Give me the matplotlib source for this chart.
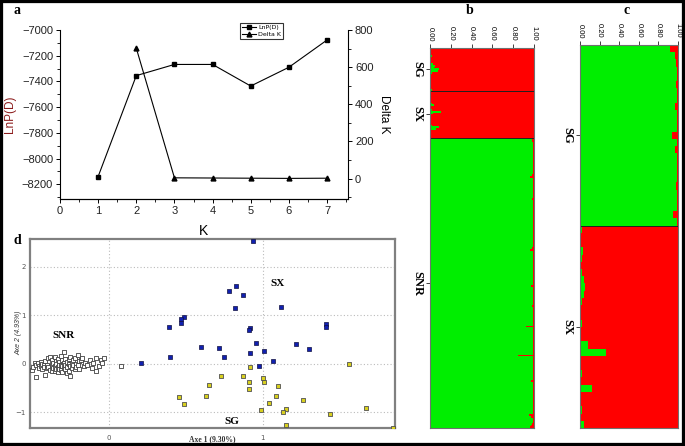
import matplotlib
matplotlib.use("Agg")
import matplotlib.pyplot as plt
import numpy as np
from matplotlib.patches import Rectangle
from matplotlib.ticker import MultipleLocator

# ---- panel a: Evanno plot ----
k_values = [1, 2, 3, 4, 5, 6, 7]
lnp_d = [-8140, -7355, -7268, -7268, -7436, -7290, -7078]
k_delta = [2, 3, 4, 5, 6, 7]
delta_k = [702, 4, 3, 2, 1, 2]

# ---- panel b: STRUCTURE K=2, proportion of green cluster per individual ----
b_groups = ["SG", "SX", "SNR"]
b_sg = [0.00, 0.01, 0.00, 0.00, 0.02, 0.01, 0.00, 0.00, 0.01, 0.03,
        0.05, 0.04, 0.09, 0.08, 0.02, 0.01, 0.00, 0.00, 0.01, 0.00,
        0.00, 0.01, 0.00, 0.00, 0.02]
b_sx = [0.00, 0.01, 0.00, 0.00, 0.01, 0.00, 0.00, 0.02, 0.04, 0.01,
        0.00, 0.02, 0.11, 0.03, 0.01, 0.00, 0.00, 0.01, 0.00, 0.00,
        0.02, 0.09, 0.06, 0.01, 0.00, 0.00, 0.01, 0.00]
b_snr = [0.98, 0.98, 0.99, 0.99, 0.99, 0.99, 0.99, 0.99, 0.99, 0.99,
         0.99, 0.99, 0.99, 0.99, 0.99, 0.99, 0.99, 0.99, 0.99, 0.99,
         0.99, 0.98, 0.96, 0.99, 0.99, 0.99, 0.99, 0.99, 0.99, 0.99,
         0.99, 0.99, 0.99, 0.99, 0.99, 0.98, 0.99, 0.99, 0.99, 0.99,
         0.99, 0.99, 0.99, 0.99, 0.99, 0.99, 0.99, 0.99, 0.99, 0.99,
         0.99, 0.99, 0.99, 0.99, 0.99, 0.99, 0.99, 0.99, 0.99, 0.99,
         0.99, 0.99, 0.99, 0.99, 0.98, 0.96, 0.99, 0.99, 0.99, 0.99,
         0.99, 0.99, 0.99, 0.99, 0.99, 0.99, 0.99, 0.99, 0.99, 0.99,
         0.99, 0.99, 0.99, 0.99, 0.99, 0.99, 0.97, 0.99, 0.99, 0.99,
         0.99, 0.99, 0.99, 0.99, 0.99, 0.99, 0.99, 0.99, 0.98, 0.99,
         0.99, 0.99, 0.99, 0.99, 0.99, 0.99, 0.99, 0.99, 0.99, 0.99,
         0.92, 0.99, 0.99, 0.99, 0.99, 0.99, 0.99, 0.99, 0.99, 0.99,
         0.99, 0.99, 0.99, 0.99, 0.99, 0.99, 0.99, 0.85, 0.99, 0.99,
         0.99, 0.99, 0.99, 0.99, 0.99, 0.99, 0.99, 0.99, 0.99, 0.99,
         0.99, 0.99, 0.97, 0.99, 0.99, 0.99, 0.99, 0.99, 0.99, 0.99,
         0.99, 0.99, 0.99, 0.99, 0.99, 0.99, 0.99, 0.99, 0.99, 0.99,
         0.99, 0.99, 0.95, 0.97, 0.99, 0.99, 0.99, 0.98, 0.97, 0.96]

# ---- panel c: STRUCTURE K=2 on SG + SX only ----
c_groups = ["SG", "SX"]
c_sg = [0.92, 0.97, 0.98, 0.99, 0.99, 0.98, 0.99, 0.99, 0.97, 0.99,
        0.99, 0.99, 0.94, 0.99, 0.97, 0.99, 0.99, 0.99, 0.99, 0.98,
        0.99, 0.99, 0.99, 0.95, 0.99]
c_sx = [0.02, 0.01, 0.01, 0.03, 0.02, 0.01, 0.02, 0.04, 0.05, 0.04,
        0.02, 0.01, 0.01, 0.02, 0.01, 0.01, 0.08, 0.27, 0.01, 0.01,
        0.02, 0.01, 0.12, 0.01, 0.01, 0.02, 0.01, 0.04]

# ---- panel d: PCoA ----
sx_x = [0.94, 0.83, 0.78, 0.87, 0.82, 1.12, 0.49, 0.47, 0.47, 0.39,
        0.92, 0.91, 1.41, 1.41, 0.96, 1.22, 1.30, 0.60, 0.72, 0.40,
        0.75, 0.92, 1.01, 1.07, 0.98, 0.21]
sx_y = [2.53, 1.61, 1.50, 1.42, 1.14, 1.17, 0.97, 0.91, 0.84, 0.75,
        0.74, 0.69, 0.81, 0.76, 0.43, 0.41, 0.30, 0.34, 0.32, 0.14,
        0.13, 0.21, 0.25, 0.05, -0.06, 0.01]
sg_x = [1.56, 0.92, 0.73, 0.87, 1.00, 1.01, 0.91, 0.91, 0.65, 1.10,
        0.63, 1.09, 0.46, 0.49, 1.04, 1.26, 0.99, 1.15, 1.13, 1.44,
        1.67, 1.15, 1.85]
sg_y = [0.00, -0.07, -0.26, -0.25, -0.30, -0.39, -0.38, -0.52, -0.44, -0.46,
        -0.67, -0.66, -0.70, -0.83, -0.81, -0.76, -0.96, -0.94, -0.99, -1.05,
        -0.91, -1.26, -1.32]
snr_x = [-0.50, -0.49, -0.48, -0.47, -0.47, -0.46, -0.45, -0.45, -0.44, -0.44,
         -0.43, -0.43, -0.42, -0.42, -0.41, -0.41, -0.40, -0.40, -0.39, -0.39,
         -0.38, -0.38, -0.37, -0.37, -0.37, -0.36, -0.36, -0.35, -0.35, -0.35,
         -0.34, -0.34, -0.34, -0.33, -0.33, -0.33, -0.32, -0.32, -0.32, -0.31,
         -0.31, -0.31, -0.30, -0.30, -0.30, -0.29, -0.29, -0.29, -0.28, -0.28,
         -0.28, -0.27, -0.27, -0.27, -0.26, -0.26, -0.26, -0.25, -0.25, -0.25,
         -0.24, -0.24, -0.23, -0.23, -0.22, -0.22, -0.21, -0.21, -0.20, -0.20,
         -0.19, -0.19, -0.18, -0.17, -0.16, -0.15, -0.14, -0.12, -0.11, -0.10,
         -0.08, -0.08, -0.06, -0.05, -0.04, -0.03, 0.08]
snr_y = [-0.14, -0.08, 0.02, -0.28, -0.02, 0.01, -0.06, -0.10, 0.03, -0.05,
         -0.12, 0.00, -0.04, -0.08, 0.05, -0.24, -0.02, -0.10, 0.12, -0.07,
         0.14, -0.13, 0.08, -0.03, -0.15, 0.02, -0.09, 0.13, -0.05, -0.16,
         0.06, -0.01, -0.12, 0.10, -0.07, -0.18, 0.03, -0.04, -0.11, 0.15,
         -0.02, -0.14, 0.07, -0.06, -0.17, 0.24, 0.01, -0.09, 0.10, -0.03,
         -0.12, 0.04, -0.07, -0.20, 0.09, -0.01, -0.15, 0.13, -0.05, -0.26,
         0.02, -0.10, 0.07, -0.04, 0.11, -0.12, 0.00, -0.08, 0.17, -0.03,
         0.05, -0.11, 0.08, 0.12, -0.06, 0.02, -0.02, 0.08, -0.10, 0.01,
         -0.15, 0.12, -0.05, 0.08, 0.01, 0.12, -0.06]

GREEN = "#00ee00"
RED = "#ff0000"
SERIF = ["Liberation Serif", "DejaVu Serif"]
SANS = ["Liberation Sans", "DejaVu Sans"]

W, H = 685, 446
fig = plt.figure(figsize=(W / 100, H / 100), dpi=100)


def px_axes(left, top, right, bottom):
    # pixel box -> figure fraction
    return fig.add_axes([left / W, 1 - bottom / H, (right - left) / W, (bottom - top) / H])


# --- panel a ---
ax_a = px_axes(60, 30, 348, 199)
ax_a.plot(k_values, lnp_d, color="black", lw=0.8, marker="s", ms=3, label="LnP(D)")
ax_a.set_xlim(0, 7.55)
ax_a.set_ylim(-8315, -7000)
ax_a.xaxis.set_major_locator(MultipleLocator(1))
ax_a.xaxis.set_minor_locator(MultipleLocator(0.5))
ax_a.yaxis.set_major_locator(MultipleLocator(200))
ax_a.yaxis.set_minor_locator(MultipleLocator(100))
ax_a.spines["top"].set_visible(False)
ax_a.spines["right"].set_visible(False)
ax_a.tick_params(labelsize=8, length=3, width=0.7, pad=2, labelcolor="#222222")
ax_a.tick_params(which="minor", length=2, width=0.6)
for lab in ax_a.get_xticklabels() + ax_a.get_yticklabels():
    lab.set_family(SANS)
ax_a.set_xlabel("K", fontsize=10, family=SANS, labelpad=6)
ax_a.set_ylabel("LnP(D)", fontsize=8.5, family=SANS, color="#8b1a1a", labelpad=4)

ax_a2 = ax_a.twinx()
ax_a2.plot(k_delta, delta_k, color="black", lw=0.8, marker="^", ms=3.5, label="Delta K")
ax_a2.set_ylim(-110, 800)
ax_a2.yaxis.set_major_locator(MultipleLocator(200))
ax_a2.yaxis.set_minor_locator(MultipleLocator(100))
ax_a2.spines["top"].set_visible(False)
ax_a2.spines["left"].set_visible(False)
ax_a2.tick_params(labelsize=8, length=3, width=0.7, pad=2, labelcolor="#222222")
ax_a2.tick_params(which="minor", length=2, width=0.6)
for lab in ax_a2.get_yticklabels():
    lab.set_family(SANS)
ax_a2.set_ylabel("Delta K", fontsize=8.5, family=SANS, rotation=270, labelpad=12)

h1, l1 = ax_a.get_legend_handles_labels()
h2, l2 = ax_a2.get_legend_handles_labels()
leg = ax_a2.legend(h1 + h2, l1 + l2, loc="upper left", bbox_to_anchor=(0.615, 1.06),
                   fontsize=4.5, frameon=True, fancybox=False, edgecolor="black",
                   handlelength=2.2, borderpad=0.3, labelspacing=0.2, handletextpad=0.4)
leg.get_frame().set_linewidth(0.8)


def structure(ax, groups, values):
    q = np.concatenate([np.asarray(v) for v in values])
    idx = np.arange(len(q))
    ax.barh(idx, q, left=0, height=1.0, color=GREEN, lw=0)
    ax.barh(idx, 1 - q, left=q, height=1.0, color=RED, lw=0)
    sizes = [len(v) for v in values]
    edges = np.cumsum([0] + sizes)
    for e in edges[1:-1]:
        ax.axhline(e - 0.5, color="#202020", lw=0.7)
    ax.set_ylim(len(q) - 0.5, -0.5)
    ax.set_xlim(0, 1)
    centers = [(edges[i] + edges[i + 1] - 1) / 2 for i in range(len(sizes))]
    ax.set_yticks(centers)
    ax.set_yticklabels(groups, rotation=270, va="center", fontsize=9,
                       fontweight="bold", family=SERIF)
    ax.xaxis.tick_top()
    ticks = [0, 0.2, 0.4, 0.6, 0.8, 1.0]
    ax.set_xticks(ticks)
    ax.set_xticklabels([f"{t:.2f}" for t in ticks], rotation=270, fontsize=5.5, family=SANS)
    ax.tick_params(length=3, width=0.7, color="#404040", pad=2)
    for s in ax.spines.values():
        s.set_color("#707070")
        s.set_linewidth(0.8)


# --- panel b ---
ax_b = px_axes(430, 48, 534, 428)
structure(ax_b, b_groups, [b_sg, b_sx, b_snr])

# --- panel c ---
ax_c = px_axes(580, 45, 678, 428)
structure(ax_c, c_groups, [c_sg, c_sx])

# --- panel d ---
ax_d = px_axes(30, 239, 395, 428)
ax_d.scatter(snr_x, snr_y, marker="s", s=10, facecolor="white", edgecolor="#404040", lw=0.6, zorder=3)
ax_d.scatter(sx_x, sx_y, marker="s", s=10, facecolor="#1020b0", edgecolor="#101040", lw=0.5, zorder=3)
ax_d.scatter(sg_x, sg_y, marker="s", s=10, facecolor="#d8d020", edgecolor="#505050", lw=0.6, zorder=3)
ax_d.set_xlim(-0.51, 1.86)
ax_d.set_ylim(-1.33, 2.57)
ax_d.set_xticks([0, 1])
ax_d.set_yticks([-1, 0, 1, 2])
ax_d.grid(True, ls=(0, (1, 2)), color="#bbbbbb", lw=0.8)
ax_d.tick_params(length=0, labelsize=5, labelcolor="#555555", pad=5)
ax_d.tick_params(axis="y", pad=3)
for s in ax_d.spines.values():
    s.set_color("#808080")
    s.set_linewidth(1.6)
fig.text(212 / W, 1 - 439 / H, "Axe 1 (9.30%)", fontsize=5.5, family=SERIF, fontweight="bold",
         color="#333333", ha="center", va="center")
fig.text(19 / W, 1 - 333 / H, "Axe 2 (4.93%)", fontsize=5, family=SANS, style="italic",
         color="#333333", ha="center", va="center", rotation=90)
ax_d.text(-0.29, 0.58, "SNR", fontsize=8, family=SERIF, fontweight="bold", ha="center", va="center")
ax_d.text(1.10, 1.66, "SX", fontsize=8, family=SERIF, fontweight="bold", ha="center", va="center")
ax_d.text(0.80, -1.19, "SG", fontsize=8, family=SERIF, fontweight="bold", ha="center", va="center")

# panel letters
for letter, (x, y) in {"a": (17, 10), "b": (470, 11), "c": (627, 11), "d": (17, 241)}.items():
    fig.text(x / W, 1 - y / H, letter, fontsize=10, fontweight="bold", family=SERIF,
             ha="center", va="center")

# outer frame
fig.patches.append(Rectangle((0, 0), 1, 1, transform=fig.transFigure, fill=False,
                             lw=4.5, edgecolor="black"))

fig.savefig("out.png", dpi=100)
